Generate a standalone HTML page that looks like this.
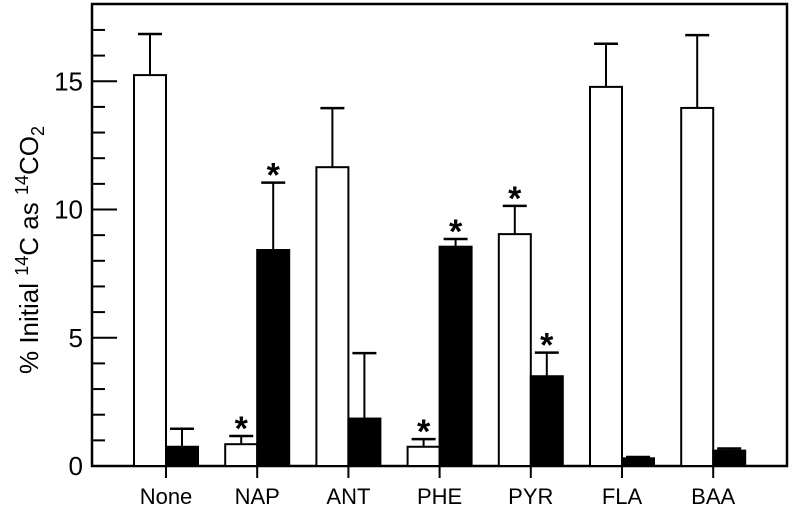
<!DOCTYPE html>
<html><head><meta charset="utf-8">
<style>
body{margin:0;background:#fff;}
svg{display:block;font-family:"Liberation Sans",Arial,sans-serif;}
</style></head>
<body>
<svg id="chart" width="792" height="514" viewBox="0 0 792 514" xmlns="http://www.w3.org/2000/svg">
<rect x="92" y="4" width="695" height="462" fill="none" stroke="#000" stroke-width="2.5"/>
<g id="yaxis"></g>
<g id="bars"></g>
<g id="xaxis"></g>
<text transform="translate(38,250) rotate(-90)" text-anchor="middle" font-size="26">% Initial <tspan font-size="18" dy="-10">14</tspan><tspan dy="10">C as </tspan><tspan font-size="18" dy="-10">14</tspan><tspan dy="10">CO</tspan><tspan font-size="18" dy="6">2</tspan></text>
</svg>
<script>
const categories=["None","NAP","ANT","PHE","PYR","FLA","BAA"];
const whiteVals=[15.24,0.85,11.65,0.75,9.04,14.78,13.96];
const whiteErr=[1.6,0.32,2.3,0.3,1.1,1.68,2.84];
const blackVals=[0.75,8.42,1.85,8.55,3.5,0.3,0.6];
const blackErr=[0.7,2.63,2.55,0.3,0.92,0.05,0.08];
const whiteSig=[false,true,false,true,true,false,false];
const blackSig=[false,true,false,true,true,false,false];
const yTicks=[0,5,10,15];
const NS="http://www.w3.org/2000/svg";
const y0=466,ppu=25.65;
function yS(v){return y0-v*ppu;}
function xS(i){return 166+i*91.2;}
function mk(tag,attrs,parent){const e=document.createElementNS(NS,tag);for(const k in attrs)e.setAttribute(k,attrs[k]);parent.appendChild(e);return e;}
const ya=document.getElementById('yaxis'),bars=document.getElementById('bars'),xa=document.getElementById('xaxis');
for(let v=1;v<18;v++){
  const major=v%5===0;
  const t=mk('line',{x1:92,x2:major?117:105,y1:yS(v),y2:yS(v),stroke:'#000','stroke-width':2},ya);
  
  
}
yTicks.forEach(v=>{
  const t=mk('text',{x:83,y:yS(v)+9,'text-anchor':'end','font-size':26},ya);
  t.textContent=v;
  
  
});
const bw=32;
categories.forEach((c,i)=>{
  const cx=xS(i);
  const tk=mk('line',{x1:cx,x2:cx,y1:466,y2:478,stroke:'#000','stroke-width':2},xa);
  
  
  const lb=mk('text',{x:cx,y:504,'text-anchor':'middle','font-size':22},xa);
  lb.textContent=c;
  
  
  [[whiteVals,whiteErr,whiteSig,cx-bw,'#fff','white'],[blackVals,blackErr,blackSig,cx,'#000','black']].forEach(s=>{
    const v=s[0][i],e=s[1][i],bx=s[3];
    const top=yS(v+e);
    const el=mk('line',{x1:bx+bw/2,x2:bx+bw/2,y1:yS(v),y2:top,stroke:'#000','stroke-width':2},bars);
    
    
    const cap=mk('line',{x1:bx+bw/2-12,x2:bx+bw/2+12,y1:top,y2:top,stroke:'#000','stroke-width':2.5},bars);
    
    
    const r=mk('rect',{x:bx,y:yS(v),width:bw,height:v*ppu,fill:s[4],stroke:'#000','stroke-width':2},bars);
    
    
    if(s[2][i]){
      const a=mk('text',{x:bx+bw/2,y:top+4,'text-anchor':'middle','font-size':34,'font-weight':'bold'},bars);
      a.textContent='*';
      
      
    }
  });
});
</script>
</body></html>
